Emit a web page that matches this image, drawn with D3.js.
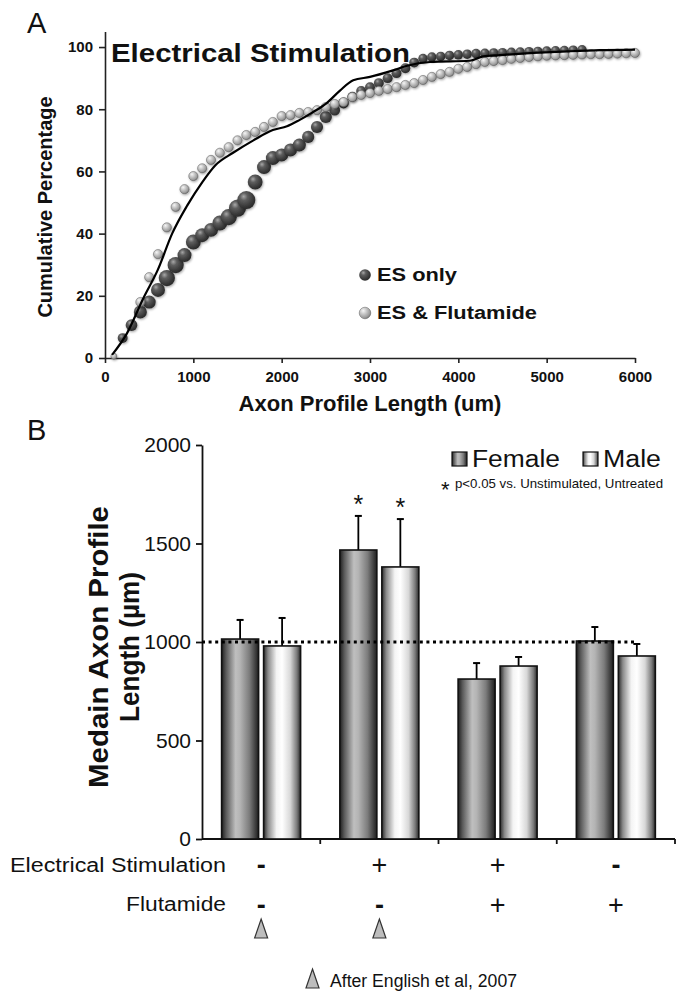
<!DOCTYPE html>
<html><head><meta charset="utf-8">
<script src="https://cdn.jsdelivr.net/npm/d3@7"></script>
<style>
html,body{margin:0;padding:0;background:#fff;}
svg{display:block;font-family:"Liberation Sans",Arial,sans-serif;}
</style></head>
<body>
<svg id="chart" width="684" height="995"></svg>
<script>
// ---------------- DATA: Panel A ----------------
const xTicksA = [0, 1000, 2000, 3000, 4000, 5000, 6000];
const yTicksA = [0, 20, 40, 60, 80, 100];
// ES only (dark bubbles): axon length (um), cumulative %, relative bubble weight
const esOnlyX = [200,300,400,500,600,700,800,900,1000,1100,1200,1300,1400,1500,1600,1700,1800,1900,2000,2100,2200,2300,2400,2500,2600,2700,2800,2900,3000,3100,3200,3300,3400,3500,3600,3700,3800,3900,4000,4100,4200,4300,4400,4500,4600,4700,4800,4900,5000,5100,5200,5300,5400];
const esOnlyY = [6.4,10.6,14.8,18.0,21.9,25.7,29.9,33.1,37.3,39.5,41.2,43.4,45.3,48.2,50.8,56.6,61.4,64.3,65.3,66.9,68.5,71.1,74.3,77.5,79.7,82.0,84.0,85.9,87.1,88.4,90.0,91.6,93.2,95.0,96.3,96.8,97.0,97.3,97.5,97.7,97.9,98.0,98.1,98.2,98.3,98.4,98.5,98.6,98.7,98.8,98.9,99.0,99.1];
const esOnlyWeight = [1.1,1.3,1.45,1.45,1.55,1.8,1.8,1.55,1.65,1.55,1.55,1.65,1.8,1.9,2.0,1.65,1.55,1.55,1.45,1.45,1.45,1.35,1.35,1.35,1.2,1.2,1.1,1.1,1.1,1.1,1.1,1.1,1.1,1.1,1.05,1.05,1.05,1.05,1.05,1.05,1.05,1.05,1.05,1.05,1.05,1.05,1.05,1.05,1.05,1.05,1.05,1.05,1.05];
// ES & Flutamide (light spheres)
const esFlutX = [100,400,500,600,700,800,900,1000,1100,1200,1300,1400,1500,1600,1700,1800,1900,2000,2100,2200,2300,2400,2500,2600,2700,2800,2900,3000,3100,3200,3300,3400,3500,3600,3700,3800,3900,4000,4100,4200,4300,4400,4500,4600,4700,4800,4900,5000,5100,5200,5300,5400,5500,5600,5700,5800,5900,6000];
const esFlutY = [0.6,18,26,33.4,42,48.6,54.3,58.5,61,63.7,66,67.8,70,71.7,72.7,74.3,75.9,77.8,78.1,78.8,79.1,79.7,80.7,81.7,82.3,83.9,84.6,85.2,85.9,86.5,87.1,87.8,88.4,89.4,90.4,91.3,92.0,93.0,93.6,94.5,95.2,95.5,95.8,96.2,96.5,96.8,97.0,97.2,97.3,97.4,97.5,97.6,97.7,97.7,97.8,97.9,98.0,98.1];
// Reference curve (black line)
const curveX = [80,250,430,600,760,930,1100,1250,1450,1680,1900,2060,2200,2350,2510,2660,2810,3000,3260,3420,3680,4130,4280,4470,4850,5230,5600,6000];
const curveY = [1,8,19,28.5,40,49,56.5,62,66,70,73.3,74.5,76.5,79,82,86,89.3,90.4,92.5,94,95.2,95.6,97,97.4,98.1,98.6,99,99.2];
const seriesA = ["ES only", "ES & Flutamide"];

// ---------------- DATA: Panel B ----------------
const groups = ["g1", "g2", "g3", "g4"];
const sexes = ["Female", "Male"];
const femaleMedian = [1015, 1467, 812, 1005];
const femaleSEM = [97, 173, 81, 71];
const maleMedian = [980, 1381, 878, 929];
const maleSEM = [142, 243, 46, 61];
const significant = [false, true, false, false];
const esSign = ["-", "+", "+", "-"];
const flutSign = ["-", "-", "+", "+"];
const afterEnglish = [true, true, false, false];
const yTicksB = [0, 500, 1000, 1500, 2000];
const referenceLine = 1000;

// ---------------- DRAW ----------------
const svg = d3.select("#chart");
const defs = svg.append("defs");
const FONT = '"Liberation Sans",Arial,sans-serif';

function radial(id, stops) {
  const g = defs.append("radialGradient").attr("id", id)
    .attr("cx", "38%").attr("cy", "35%").attr("r", "70%").attr("fx", "35%").attr("fy", "30%");
  stops.forEach(s => g.append("stop").attr("offset", s[0]).attr("stop-color", s[1]));
}
radial("gDark", [[0, "#a8a8a8"], [0.3, "#5e5e5e"], [0.75, "#383838"], [1, "#262626"]]);
radial("gLight", [[0, "#f6f6f6"], [0.35, "#cdcdcd"], [0.8, "#9a9a9a"], [1, "#6c6c6c"]]);
const shadow = defs.append("filter").attr("id", "shadow").attr("x", "-50%").attr("y", "-50%").attr("width", "200%").attr("height", "200%");
shadow.append("feDropShadow").attr("dx", 0.8).attr("dy", 1.2).attr("stdDeviation", 0.9).attr("flood-color", "#000").attr("flood-opacity", 0.35);

function linear(id, stops) {
  const g = defs.append("linearGradient").attr("id", id).attr("x1", "0%").attr("x2", "100%").attr("y1", "0%").attr("y2", "0%");
  stops.forEach(s => g.append("stop").attr("offset", s[0]).attr("stop-color", s[1]));
}
linear("gFemale", [[0, "#1e1e1e"], [0.12, "#5a5a5a"], [0.38, "#bfbfbf"], [0.5, "#b4b4b4"], [0.75, "#7c7c7c"], [0.92, "#3c3c3c"], [1, "#1e1e1e"]]);
linear("gMale", [[0, "#2a2a2a"], [0.12, "#8a8a8a"], [0.35, "#f4f4f4"], [0.5, "#ffffff"], [0.72, "#d8d8d8"], [0.9, "#7a7a7a"], [1, "#2a2a2a"]]);

// ===== Panel A =====
const xA = d3.scaleLinear().domain([0, 6000]).range([105, 635]);
const yA = d3.scaleLinear().domain([0, 105]).range([358, 31.5]);
const rA = d3.scaleLinear().domain([1, 2]).range([4.5, 9]);

svg.append("text").attr("x", 27).attr("y", 33).attr("font-size", 29).attr("fill", "#111").text("A");

const axA_y = svg.append("g").attr("transform", `translate(${xA(0)},0)`)
  .call(d3.axisLeft(yA).tickValues(yTicksA).tickFormat(d3.format("d")).tickSize(6).tickSizeOuter(0).tickPadding(6));
const axA_x = svg.append("g").attr("transform", `translate(0,${yA(0)})`)
  .call(d3.axisBottom(xA).tickValues(xTicksA).tickFormat(d3.format("d")).tickSize(5).tickSizeOuter(0).tickPadding(8));
[axA_y, axA_x].forEach(a => {
  a.selectAll("path,line").attr("stroke", "#222").attr("stroke-width", 1.6);
  a.selectAll("text").attr("font-family", FONT).attr("font-weight", "bold").attr("font-size", 15).attr("fill", "#111");
});

svg.append("text").attr("x", 111).attr("y", 62).attr("font-weight", "bold").attr("font-size", 26)
  .attr("textLength", 299).attr("lengthAdjust", "spacingAndGlyphs").attr("fill", "#111").text("Electrical Stimulation");

svg.append("text").attr("transform", `translate(52,207) rotate(-90)`).attr("text-anchor", "middle")
  .attr("font-weight", "bold").attr("font-size", 20).attr("fill", "#111").text("Cumulative Percentage");
svg.append("text").attr("x", xA(3000)).attr("y", 411).attr("text-anchor", "middle")
  .attr("font-weight", "bold").attr("font-size", 22).attr("fill", "#111").text("Axon Profile Length (um)");

const darkData = esOnlyX.map((x, i) => ({x, y: esOnlyY[i], w: esOnlyWeight[i]}));
const lightData = esFlutX.map((x, i) => ({x, y: esFlutY[i]}));

svg.append("g").selectAll("circle").data(darkData).join("circle")
  .attr("cx", d => xA(d.x)).attr("cy", d => yA(d.y)).attr("r", d => rA(d.w))
  .attr("fill", "url(#gDark)").attr("filter", "url(#shadow)");
svg.append("g").selectAll("circle").data(lightData).join("circle")
  .attr("cx", d => xA(d.x)).attr("cy", d => yA(d.y)).attr("r", (d, i) => i === 0 ? 3 : 4.6)
  .attr("fill", "url(#gLight)").attr("stroke", "#5e5e5e").attr("stroke-width", 0.5).attr("filter", "url(#shadow)");

const lineA = d3.line().x((d, i) => xA(curveX[i])).y((d, i) => yA(curveY[i])).curve(d3.curveMonotoneX);
svg.append("path").datum(curveX).attr("d", lineA).attr("fill", "none").attr("stroke", "#000").attr("stroke-width", 2.2);

const legA = svg.append("g");
seriesA.forEach((s, i) => {
  const cy = 275 + i * 38;
  legA.append("circle").attr("cx", 365).attr("cy", cy).attr("r", 5.8)
    .attr("fill", i === 0 ? "url(#gDark)" : "url(#gLight)").attr("stroke", i === 0 ? "none" : "#5e5e5e").attr("stroke-width", 0.5);
  legA.append("text").attr("x", 377).attr("y", cy + 6).attr("font-weight", "bold").attr("font-size", 18)
    .attr("textLength", i === 0 ? 80 : 160).attr("lengthAdjust", "spacingAndGlyphs").attr("fill", "#111").text(s);
});

// ===== Panel B =====
svg.append("text").attr("x", 27).attr("y", 440).attr("font-size", 29).attr("fill", "#111").text("B");

const xB = d3.scaleBand().domain(groups).range([202, 675]).padding(0);
const xSub = d3.scaleBand().domain(sexes).range([19.6, 98.6]).paddingInner(0.119).paddingOuter(0);
const yB = d3.scaleLinear().domain([0, 2000]).range([839, 445]);

const axB_y = svg.append("g").attr("transform", `translate(202,0)`)
  .call(d3.axisLeft(yB).tickValues(yTicksB).tickFormat(d3.format("d")).tickSize(6).tickSizeOuter(0).tickPadding(5));
axB_y.selectAll("path,line").attr("stroke", "#111").attr("stroke-width", 1.8);
axB_y.selectAll("text").attr("font-family", FONT).attr("font-size", 21).attr("fill", "#111");

const axB_x = svg.append("g").attr("transform", `translate(0,${yB(0)})`);
axB_x.append("line").attr("x1", xB.range()[0]).attr("x2", xB.range()[1]).attr("stroke", "#111").attr("stroke-width", 1.8);
axB_x.selectAll("line.t").data(groups).join("line").attr("class", "t")
  .attr("x1", d => xB(d) + xB.bandwidth()).attr("x2", d => xB(d) + xB.bandwidth())
  .attr("y1", 0).attr("y2", 5).attr("stroke", "#111").attr("stroke-width", 1.8);

const barData = [];
groups.forEach((g, i) => {
  barData.push({g, s: "Female", v: femaleMedian[i], e: femaleSEM[i], sig: significant[i]});
  barData.push({g, s: "Male", v: maleMedian[i], e: maleSEM[i], sig: significant[i]});
});
const bx = d => xB(d.g) + xSub(d.s);
const bc = d => bx(d) + xSub.bandwidth() / 2;

const eb = svg.append("g");
eb.selectAll("line.v").data(barData).join("line").attr("class", "v")
  .attr("x1", bc).attr("x2", bc).attr("y1", d => yB(d.v)).attr("y2", d => yB(d.v + d.e))
  .attr("stroke", "#000").attr("stroke-width", 1.8);
eb.selectAll("line.c").data(barData).join("line").attr("class", "c")
  .attr("x1", d => bc(d) - 3.5).attr("x2", d => bc(d) + 3.5).attr("y1", d => yB(d.v + d.e)).attr("y2", d => yB(d.v + d.e))
  .attr("stroke", "#000").attr("stroke-width", 2);

svg.append("g").selectAll("rect").data(barData).join("rect")
  .attr("x", bx).attr("width", xSub.bandwidth())
  .attr("y", d => yB(d.v)).attr("height", d => yB(0) - yB(d.v))
  .attr("fill", d => d.s === "Female" ? "url(#gFemale)" : "url(#gMale)")
  .attr("stroke", "#111").attr("stroke-width", 1.6);

svg.append("g").selectAll("text").data(barData.filter(d => d.sig)).join("text")
  .attr("x", bc).attr("y", d => yB(d.v + d.e) - 3).attr("text-anchor", "middle")
  .attr("font-size", 25).attr("fill", "#111").text("*");

svg.append("line").attr("x1", 202).attr("x2", xB("g4") + xSub("Male") + xSub.bandwidth() / 2)
  .attr("y1", yB(referenceLine)).attr("y2", yB(referenceLine))
  .attr("stroke", "#000").attr("stroke-width", 3).attr("stroke-dasharray", "3,3.6");

const yTitle = svg.append("text").attr("transform", `translate(0,647) rotate(-90)`)
  .attr("text-anchor", "middle").attr("font-weight", "bold").attr("font-size", 28).attr("fill", "#111");
yTitle.append("tspan").attr("x", 0).attr("y", 108).attr("textLength", 282).attr("lengthAdjust", "spacingAndGlyphs").text("Medain Axon Profile");
yTitle.append("tspan").attr("x", 0).attr("y", 139).attr("textLength", 150).attr("lengthAdjust", "spacingAndGlyphs").text("Length (µm)");

const legB = svg.append("g");
sexes.forEach((s, i) => {
  const x0 = i === 0 ? 452 : 583;
  legB.append("rect").attr("x", x0).attr("y", 452).attr("width", 15).attr("height", 14)
    .attr("fill", i === 0 ? "url(#gFemale)" : "url(#gMale)").attr("stroke", "#111").attr("stroke-width", 1.2);
  legB.append("text").attr("x", x0 + 20).attr("y", 467).attr("font-size", 23)
    .attr("textLength", i === 0 ? 88 : 58).attr("lengthAdjust", "spacingAndGlyphs").attr("fill", "#111").text(s);
});
legB.append("text").attr("x", 441).attr("y", 497).attr("font-size", 22).attr("fill", "#111").text("*");
legB.append("text").attr("x", 455).attr("y", 488).attr("font-size", 13)
  .attr("textLength", 208).attr("lengthAdjust", "spacingAndGlyphs").attr("fill", "#111").text("p<0.05 vs. Unstimulated, Untreated");

const gc = g => xB(g) + xB.bandwidth() / 2;
svg.append("text").attr("x", 226).attr("y", 872).attr("text-anchor", "end").attr("font-size", 20)
  .attr("textLength", 216).attr("lengthAdjust", "spacingAndGlyphs").attr("fill", "#111").text("Electrical Stimulation");
svg.append("text").attr("x", 226).attr("y", 911).attr("text-anchor", "end").attr("font-size", 20)
  .attr("textLength", 100).attr("lengthAdjust", "spacingAndGlyphs").attr("fill", "#111").text("Flutamide");
svg.append("g").selectAll("text").data(groups).join("text")
  .attr("x", gc).attr("y", 874).attr("text-anchor", "middle").attr("font-size", 27)
  .attr("fill", "#111").attr("font-weight", (d, i) => esSign[i] === "-" ? "bold" : "normal").text((d, i) => esSign[i]);
svg.append("g").selectAll("text").data(groups).join("text")
  .attr("x", gc).attr("y", 914).attr("text-anchor", "middle").attr("font-size", 27)
  .attr("fill", "#111").attr("font-weight", (d, i) => flutSign[i] === "-" ? "bold" : "normal").text((d, i) => flutSign[i]);

const tri = (cx, top, w, h) => d3.line()([[cx, top], [cx + w / 2, top + h], [cx - w / 2, top + h]]) + "Z";
svg.append("g").selectAll("path").data(groups.filter((g, i) => afterEnglish[i])).join("path")
  .attr("d", g => tri(gc(g), 919, 13, 19)).attr("fill", "#bdbdbd").attr("stroke", "#333").attr("stroke-width", 1.2);

svg.append("path").attr("d", tri(312.5, 969, 13, 19)).attr("fill", "#bdbdbd").attr("stroke", "#333").attr("stroke-width", 1.2);
svg.append("text").attr("x", 330).attr("y", 987).attr("font-size", 18)
  .attr("textLength", 187).attr("lengthAdjust", "spacingAndGlyphs").attr("fill", "#111").text("After English et al, 2007");
</script>
</body></html>
